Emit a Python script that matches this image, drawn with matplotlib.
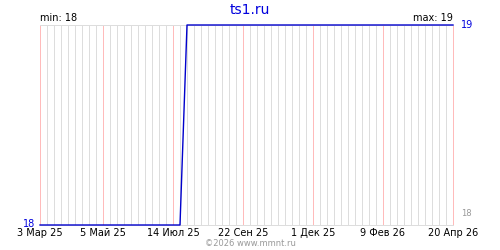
import matplotlib
matplotlib.use("Agg")
import matplotlib.pyplot as plt
import matplotlib.dates as mdates
import pandas as pd

# datos
dates = ["2025-03-03", "2025-07-21", "2025-07-28", "2026-04-20"]
values = [18, 18, 19, 19]
tick_dates = ["2025-03-03", "2025-05-05", "2025-07-14", "2025-09-22",
              "2025-12-01", "2026-02-09", "2026-04-20"]
tick_labels = ["3 Мар 25", "5 Май 25", "14 Июл 25", "22 Сен 25",
               "1 Дек 25", "9 Фев 26", "20 Апр 26"]
y_min, y_max = 18, 19

x = pd.to_datetime(dates)
ticks = pd.to_datetime(tick_dates)

px = 72 / 100  # un pixel en puntos

fig = plt.figure(figsize=(5, 2.5), dpi=100)
ax = fig.add_axes([0.08, 0.1, 0.826, 0.8])

# rejilla semanal gris
ax.xaxis.set_minor_locator(mdates.WeekdayLocator(byweekday=mdates.MO))
ax.set_xticks(ticks)
ax.set_xticklabels(tick_labels, fontsize=7)
ax.grid(which="minor", axis="x", color="#dddddd", linewidth=px, snap=True)
ax.tick_params(which="both", length=0, pad=2)
ax.set_xlim(x[0], x[-1])
ax.set_ylim(y_min, y_max)
ax.set_yticks([])

# lineas rosas en las fechas marcadas
ax.vlines(ticks, y_min, y_max, color="#ffbbbb", linewidth=px, snap=True,
          clip_on=False, zorder=2)

for side in ["left", "right"]:
  ax.spines[side].set_visible(False)
for side in ["top", "bottom"]:
  ax.spines[side].set_color("#dddddd")
  ax.spines[side].set_linewidth(px)

ax.plot(x, values, color="#0000cc", linewidth=1, clip_on=False, zorder=5)

# textos
fig.text(0.5, 0.96, "ts1.ru", color="#0000dd", fontsize=10, ha="center", va="center")
ax.text(0.0, 1.01, f"min: {min(values)}", transform=ax.transAxes, fontsize=7,
        ha="left", va="bottom")
ax.text(1.0, 1.01, f"max: {max(values)}", transform=ax.transAxes, fontsize=7,
        ha="right", va="bottom")
ax.text(-0.012, -0.01, str(y_min), transform=ax.transAxes, fontsize=7, color="#0000dd",
        ha="right", va="baseline")
ax.text(1.02, 1.0, str(y_max), transform=ax.transAxes, fontsize=7, color="#0000dd",
        ha="left", va="center")
ax.text(1.02, 0.06, str(y_min), transform=ax.transAxes, fontsize=6, color="#999999",
        ha="left", va="center")
fig.text(0.5, 0.025, "©2026 www.mmnt.ru", color="#999999", fontsize=6,
         ha="center", va="center")

fig.savefig("out.png", dpi=100)
